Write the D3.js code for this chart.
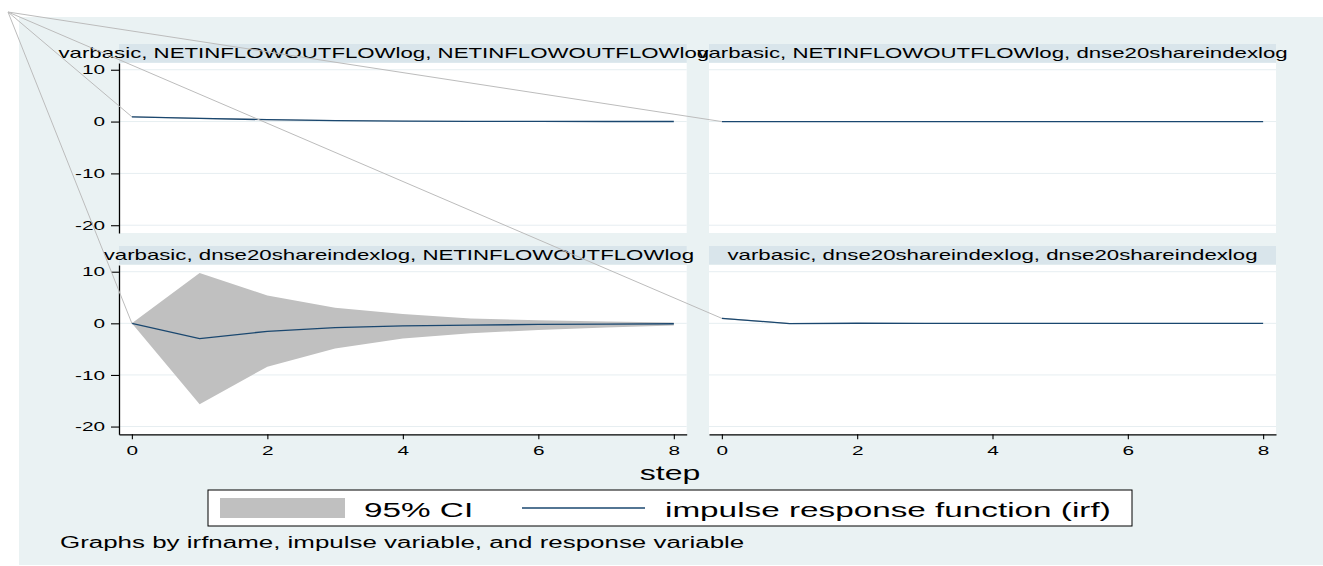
<!DOCTYPE html>
<html><head><meta charset="utf-8">
<script src="https://cdn.jsdelivr.net/npm/d3@7"></script>
<style>
body{margin:0;background:#fff;}
svg{display:block;}
text{font-family:"Liberation Sans",Arial,Helvetica,sans-serif;}
</style>
</head><body><svg id="c" width="1323" height="566"></svg>
<script>
// ---------------- data ----------------
const steps = [0, 1, 2, 3, 4, 5, 6, 7, 8];
const panelTitles = [
  "varbasic, NETINFLOWOUTFLOWlog, NETINFLOWOUTFLOWlog",
  "varbasic, NETINFLOWOUTFLOWlog, dnse20shareindexlog",
  "varbasic, dnse20shareindexlog, NETINFLOWOUTFLOWlog",
  "varbasic, dnse20shareindexlog, dnse20shareindexlog"
];
// impulse NETINFLOWOUTFLOWlog -> response NETINFLOWOUTFLOWlog
const irfNetNet = [0.92, 0.62, 0.36, 0.2, 0.1, 0.05, 0.03, 0.015, 0.01];
const loNetNet  = [0.82, 0.48, 0.24, 0.11, 0.04, 0.01, 0.0, -0.005, -0.005];
const hiNetNet  = [1.02, 0.76, 0.48, 0.29, 0.16, 0.09, 0.06, 0.035, 0.025];
// impulse NETINFLOWOUTFLOWlog -> response dnse20shareindexlog
const irfNetDnse = [0, 0, 0, 0, 0, 0, 0, 0, 0];
const loNetDnse  = [0, -0.04, -0.03, -0.02, -0.01, -0.01, 0, 0, 0];
const hiNetDnse  = [0, 0.04, 0.03, 0.02, 0.01, 0.01, 0, 0, 0];
// impulse dnse20shareindexlog -> response NETINFLOWOUTFLOWlog
const irfDnseNet = [0, -2.95, -1.55, -0.85, -0.5, -0.35, -0.22, -0.14, -0.08];
const loDnseNet  = [0, -15.7, -8.4, -4.9, -2.95, -1.9, -1.3, -0.8, -0.4];
const hiDnseNet  = [0, 9.75, 5.4, 3.0, 1.8, 0.95, 0.6, 0.35, 0.15];
// impulse dnse20shareindexlog -> response dnse20shareindexlog
const irfDnseDnse = [0.96, -0.05, 0.01, 0, 0, 0, 0, 0, 0];
const loDnseDnse  = [0.86, -0.15, -0.03, -0.01, 0, 0, 0, 0, 0];
const hiDnseDnse  = [1.06, 0.05, 0.04, 0.01, 0, 0, 0, 0, 0];

const yTicks = [-20, -10, 0, 10];
const xTicks = [0, 2, 4, 6, 8];
const legendLabels = ["95% CI", "impulse response function (irf)"];
const xAxisTitle = "step";
const noteText = "Graphs by irfname, impulse variable, and response variable";

// ---------------- layout / style ----------------
const SX = 1.6; // horizontal stretch of all text (picture is stretched)
const C = {
  bg: "#eaf2f3", strip: "#d9e5eb", grid: "#e6eef1",
  ci: "#c0c0c0", irf: "#1a476f", artifact: "#bcbcbc"
};
const cols = [[119, 686.7], [709, 1276]];
const rows = [
  {strip: [44, 62.7], plot: [63, 233]},
  {strip: [246, 264.5], plot: [265, 434.3]}
];
const titleDx = [-19, 0, -4, 0];
const xDomain = [-0.19, 8.19];
const yDomain = [-21.5, 11.3];
const artifactOrigin = [8, 12];

const panels = [
  {irf: irfNetNet, lo: loNetNet, hi: hiNetNet},
  {irf: irfNetDnse, lo: loNetDnse, hi: hiNetDnse},
  {irf: irfDnseNet, lo: loDnseNet, hi: hiDnseNet},
  {irf: irfDnseDnse, lo: loDnseDnse, hi: hiDnseDnse}
];

const svg = d3.select("#c");

function stext(parent, x, y, str, size, anchor) {
  return parent.append("text")
    .attr("transform", `translate(${x},${y}) scale(${SX},1)`)
    .attr("font-size", size)
    .attr("text-anchor", anchor || "start")
    .attr("fill", "#000")
    .text(str);
}

// graph region background
svg.append("rect").attr("x", 19).attr("y", 17).attr("width", 1304).attr("height", 548).attr("fill", C.bg);

const firstPoints = [];
const titleLayer = svg.append("g");

panels.forEach((p, i) => {
  const r = rows[Math.floor(i / 2)], c = cols[i % 2];
  const g = svg.append("g");
  const x = d3.scaleLinear().domain(xDomain).range(c);
  const y = d3.scaleLinear().domain(yDomain).range([r.plot[1], r.plot[0]]);

  // title strip
  g.append("rect").attr("x", c[0]).attr("y", r.strip[0])
    .attr("width", c[1] - c[0]).attr("height", r.strip[1] - r.strip[0]).attr("fill", C.strip);
  // plot region
  g.append("rect").attr("x", c[0]).attr("y", r.plot[0])
    .attr("width", c[1] - c[0]).attr("height", r.plot[1] - r.plot[0]).attr("fill", "#fff");
  // gridlines
  g.selectAll("line.grid").data(yTicks).join("line")
    .attr("x1", c[0]).attr("x2", c[1])
    .attr("y1", d => y(d)).attr("y2", d => y(d))
    .attr("stroke", C.grid).attr("stroke-width", 1);

  // CI band
  const area = d3.area().x((d, k) => x(steps[k])).y0((d, k) => y(p.lo[k])).y1((d, k) => y(p.hi[k]));
  g.append("path").datum(steps).attr("d", area).attr("fill", C.ci).attr("stroke", "none");
  // irf line
  const line = d3.line().x((d, k) => x(steps[k])).y((d, k) => y(p.irf[k]));
  g.append("path").datum(steps).attr("d", line).attr("fill", "none")
    .attr("stroke", C.irf).attr("stroke-width", 1.3);
  firstPoints.push([x(steps[0]), y(p.irf[0])]);

  // y axis (left column)
  if (i % 2 === 0) {
    const ya = g.append("g").attr("transform", `translate(${c[0]},0)`)
      .call(d3.axisLeft(y).tickValues(yTicks).tickFormat(d => String(d))
        .tickSize(8).tickPadding(6).tickSizeOuter(0));
    ya.select(".domain").attr("stroke", "#000").attr("stroke-width", 1.3);
    ya.selectAll(".tick line").attr("stroke", "#000").attr("stroke-width", 1.1);
    ya.selectAll(".tick text").attr("x", -14 / SX).attr("transform", `scale(${SX},1)`)
      .attr("font-size", 13).attr("fill", "#000");
  }
  // x axis (bottom row)
  if (Math.floor(i / 2) === 1) {
    const xa = g.append("g").attr("transform", `translate(0,${r.plot[1]})`)
      .call(d3.axisBottom(x).tickValues(xTicks).tickFormat(d => String(d))
        .tickSize(5).tickPadding(6.5).tickSizeOuter(0));
    xa.select(".domain").attr("stroke", "#000").attr("stroke-width", 1.3);
    xa.selectAll(".tick line").attr("stroke", "#000").attr("stroke-width", 1.1);
    xa.selectAll(".tick text").attr("transform", `scale(${SX},1)`)
      .attr("font-size", 13).attr("fill", "#000");
  }
  // title
  const baseline = r.strip[1] - 4.5;
  stext(titleLayer, (c[0] + c[1]) / 2 + titleDx[i], baseline, panelTitles[i], 13.9, "middle");
});
titleLayer.raise();

// stray connector lines (rendering artifact in the reference)
svg.append("g").selectAll("line").data(firstPoints).join("line")
  .attr("x1", artifactOrigin[0]).attr("y1", artifactOrigin[1])
  .attr("x2", d => d[0]).attr("y2", d => d[1])
  .attr("stroke", C.artifact).attr("stroke-width", 1);

// x axis title
stext(svg, 670, 480, xAxisTitle, 20, "middle");

// legend
const lg = svg.append("g");
lg.append("rect").attr("x", 208).attr("y", 490).attr("width", 924).attr("height", 36)
  .attr("fill", "#fff").attr("stroke", "#000").attr("stroke-width", 1);
lg.append("rect").attr("x", 220).attr("y", 498).attr("width", 125).attr("height", 20).attr("fill", C.ci);
stext(lg, 364, 517, legendLabels[0], 20.8, "start");
lg.append("line").attr("x1", 522).attr("x2", 645).attr("y1", 508).attr("y2", 508)
  .attr("stroke", C.irf).attr("stroke-width", 1.6);
stext(lg, 665, 517, legendLabels[1], 20.8, "start");

// note
stext(svg, 60, 548, noteText, 16.2, "start");
</script>
</body></html>
